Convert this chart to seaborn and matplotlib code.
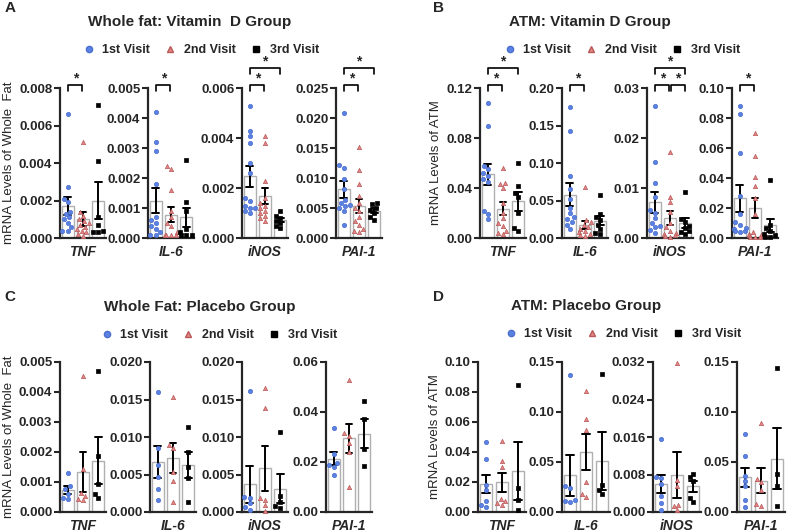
import numpy as np
import pandas as pd
import matplotlib
matplotlib.use('Agg')
import matplotlib.pyplot as plt
import matplotlib.transforms as mtransforms
from matplotlib.lines import Line2D
import seaborn as sns

genes = ['TNF', 'IL-6', 'iNOS', 'PAI-1']
visits = ['1st Visit', '2nd Visit', '3rd Visit']

# A: whole fat, vitamin D group  (values per visit)
a_tnf = [[0.0066, 0.0027, 0.0021, 0.0019, 0.0014, 0.0013, 0.0011, 0.0010, 0.0008, 0.0006, 0.0004, 0.0004],
         [0.0051, 0.0014, 0.0012, 0.0010, 0.0009, 0.0008, 0.0007, 0.0006, 0.0005, 0.0004, 0.0003, 0.0002, 0.0001],
         [0.0071, 0.0041, 0.0011, 0.0007, 0.0004, 0.0003, 0.0003]]
a_il6 = [[0.0042, 0.0032, 0.0029, 0.0018, 0.0007, 0.0006, 0.0005, 0.0004, 0.0003, 0.0002, 0.0001, 0.0001],
         [0.0024, 0.0023, 0.0016, 0.0009, 0.0007, 0.0005, 0.0004, 0.0002, 0.0001, 0.0001, 0.0001, 0.0001],
         [0.0026, 0.0012, 0.0009, 0.0003, 0.0002, 0.0001, 0.0001, 0.0001]]
a_inos = [[0.0053, 0.0043, 0.0041, 0.0038, 0.0030, 0.0026, 0.0016, 0.0015, 0.0013, 0.0012, 0.0012, 0.0011, 0.0010],
          [0.0041, 0.0038, 0.0023, 0.0016, 0.0014, 0.0013, 0.0012, 0.0011, 0.0010, 0.0009, 0.0008, 0.0007],
          [0.0011, 0.0009, 0.0008, 0.0007, 0.0006, 0.0005, 0.0004]]
a_pai1 = [[0.0209, 0.0121, 0.0116, 0.0099, 0.0082, 0.0063, 0.0058, 0.0055, 0.0053, 0.0050, 0.0045, 0.0021],
          [0.0152, 0.0113, 0.0090, 0.0070, 0.0058, 0.0050, 0.0045, 0.0035, 0.0028, 0.0022, 0.0015, 0.0012, 0.0010],
          [0.0058, 0.0056, 0.0050, 0.0046, 0.0042, 0.0035, 0.0030]]

# B: ATM, vitamin D group
b_tnf = [[0.108, 0.090, 0.058, 0.055, 0.052, 0.050, 0.047, 0.045, 0.022, 0.019, 0.015],
         [0.056, 0.044, 0.043, 0.040, 0.028, 0.020, 0.016, 0.012, 0.010, 0.006, 0.004, 0.003],
         [0.060, 0.042, 0.036, 0.033, 0.020, 0.008, 0.006]]
b_il6 = [[0.175, 0.143, 0.083, 0.065, 0.052, 0.040, 0.033, 0.028, 0.025, 0.022, 0.018, 0.012],
         [0.068, 0.024, 0.021, 0.018, 0.015, 0.012, 0.010, 0.008, 0.006, 0.004, 0.003],
         [0.057, 0.032, 0.028, 0.024, 0.018, 0.012, 0.007, 0.005]]
b_inos = [[0.0265, 0.0152, 0.0110, 0.0082, 0.0056, 0.0050, 0.0040, 0.0030, 0.0025, 0.0022, 0.0016, 0.0010],
          [0.0173, 0.0082, 0.0072, 0.0052, 0.0030, 0.0022, 0.0015, 0.0010, 0.0008, 0.0006, 0.0004, 0.0003],
          [0.0093, 0.0038, 0.0032, 0.0025, 0.0020, 0.0015, 0.0012, 0.0008]]
b_pai1 = [[0.088, 0.083, 0.057, 0.028, 0.016, 0.011, 0.009, 0.007, 0.006, 0.005, 0.005, 0.004],
          [0.070, 0.055, 0.041, 0.035, 0.027, 0.016, 0.004, 0.003, 0.002, 0.002, 0.001, 0.001, 0.001],
          [0.039, 0.009, 0.007, 0.005, 0.003, 0.002, 0.001, 0.001]]

# C: whole fat, placebo group
c_tnf = [[0.0013, 0.00086, 0.00076, 0.00061, 0.00047, 0.00044],
         [0.00455, 0.00145, 0.00065, 0.00055, 0.00045, 0.0004],
         [0.0047, 0.00186, 0.00094, 0.0006, 0.00048]]
c_il6 = [[0.016, 0.0085, 0.0063, 0.0047, 0.0031, 0.0016],
         [0.0154, 0.0089, 0.0085, 0.0053, 0.0041, 0.0013],
         [0.0114, 0.0080, 0.0060, 0.0046, 0.0013]]
c_inos = [[0.0161, 0.0020, 0.0019, 0.0012, 0.0007, 0.0003],
          [0.0165, 0.0139, 0.0019, 0.0016, 0.0009, 0.0002],
          [0.0107, 0.0021, 0.0014, 0.0008, 0.0006]]
c_pai1 = [[0.0335, 0.0232, 0.0195, 0.0188, 0.0180, 0.0148],
          [0.0530, 0.0315, 0.0305, 0.0275, 0.0240, 0.0100],
          [0.0445, 0.0372, 0.0252, 0.0185]]

# D: ATM, placebo group
d_tnf = [[0.0465, 0.0355, 0.0180, 0.0145, 0.0075, 0.0048, 0.0033],
         [0.0473, 0.0340, 0.0300, 0.0090, 0.0075, 0.0060, 0.0050],
         [0.0845, 0.0160, 0.0080, 0.0015]]
d_il6 = [[0.137, 0.026, 0.024, 0.012, 0.011, 0.010],
         [0.121, 0.093, 0.082, 0.030, 0.018, 0.015],
         [0.138, 0.027, 0.022, 0.018]]
d_inos = [[0.0155, 0.0075, 0.0072, 0.0060, 0.0035, 0.0019, 0.0004],
          [0.0318, 0.0068, 0.0055, 0.0016, 0.0012, 0.0004],
          [0.0082, 0.0074, 0.0066, 0.0030, 0.0021]]
d_pai1 = [[0.078, 0.056, 0.036, 0.031, 0.026, 0.012, 0.005],
          [0.089, 0.033, 0.030, 0.022, 0.008, 0.006],
          [0.144, 0.038, 0.026, 0.006]]

# y ticks per subplot
a_yticks = [[0, 0.002, 0.004, 0.006, 0.008], [0, 0.001, 0.002, 0.003, 0.004, 0.005],
            [0, 0.002, 0.004, 0.006], [0, 0.005, 0.010, 0.015, 0.020, 0.025]]
b_yticks = [[0, 0.04, 0.08, 0.12], [0, 0.05, 0.10, 0.15, 0.20],
            [0, 0.01, 0.02, 0.03], [0, 0.02, 0.04, 0.06, 0.08, 0.10]]
c_yticks = [[0, 0.001, 0.002, 0.003, 0.004, 0.005], [0, 0.005, 0.010, 0.015, 0.020],
            [0, 0.005, 0.010, 0.015, 0.020], [0, 0.02, 0.04, 0.06]]
d_yticks = [[0, 0.02, 0.04, 0.06, 0.08, 0.10], [0, 0.05, 0.10, 0.15],
            [0, 0.008, 0.016, 0.024, 0.032], [0, 0.05, 0.10, 0.15]]
a_dec = [3, 3, 3, 3]
b_dec = [2, 2, 2, 2]
c_dec = [3, 3, 3, 2]
d_dec = [2, 2, 3, 2]

# significance brackets (visit i, visit j, level)
a_sig = [[(0, 1, 0)], [(0, 1, 0)], [(0, 1, 0), (0, 2, 1)], [(0, 1, 0), (0, 2, 1)]]
b_sig = [[(0, 1, 0), (0, 2, 1)], [(0, 1, 0)], [(0, 1, 0), (1, 2, 0), (0, 2, 1)], [(0, 1, 0)]]
no_sig = [[], [], [], []]

W, H = 789, 532
sns.set_theme(style='ticks')
plt.rcParams['font.family'] = ['Liberation Sans', 'DejaVu Sans']
plt.rcParams['axes.linewidth'] = 1.6

fig = plt.figure(figsize=(W / 100, H / 100), dpi=100)

styles = [('o', '#5b82e3', '#4a6fcc'), ('^', '#e48585', '#b85a5a'), ('s', 'black', 'black')]


def fx(px):
    return px / W


def fy(py):
    return 1 - py / H


def draw(ax, vals, ticks, dec, sig, gene):
    df = pd.DataFrame({'visit': np.repeat(visits, [len(v) for v in vals]),
                       'value': np.concatenate(vals)})
    ax.set_ylim(0, ticks[-1])
    sns.barplot(data=df, x='visit', y='value', order=visits, color='white',
                edgecolor='#b0b0b0', linewidth=1.0, width=0.8, errorbar='se',
                capsize=0.45, err_kws={'color': 'black', 'linewidth': 1.4}, ax=ax)
    ax.set_ylim(0, ticks[-1])
    ax.set_xlim(-0.5, 2.5)
    for v, (m, c, ec) in zip(visits, styles):
        sns.swarmplot(data=df[df.visit == v], x='visit', y='value', order=visits,
                      marker=m, color=c, edgecolor=ec, linewidth=0.5, size=3.1,
                      ax=ax, warn_thresh=1, clip_on=False, zorder=3)
    ax.set_xlim(-0.5, 2.5)
    ax.set_ylim(0, ticks[-1])
    sns.despine(ax=ax)
    ax.set_xticks([])
    ax.set_xlabel(gene, fontstyle='italic', fontweight='bold', fontsize=10, labelpad=5)
    ax.set_ylabel('')
    ax.set_yticks(ticks)
    ax.set_yticklabels([f'{t:.{dec}f}' for t in ticks], fontweight='bold', fontsize=9.5)
    ax.tick_params(axis='y', length=4, width=1.5, pad=1.5)
    trans = mtransforms.blended_transform_factory(ax.transData, ax.transAxes)
    for i, j, lvl in sig:
        y = 1.02 + 0.115 * lvl
        x0, x1 = i + 0.04, j - 0.04
        ax.add_line(Line2D([x0, x0, x1, x1], [y - 0.04, y, y, y - 0.04], transform=trans,
                           color='black', linewidth=1.2, clip_on=False))
        ax.text((x0 + x1) / 2, y - 0.005, '*', transform=trans, ha='center', va='bottom',
                fontsize=10, fontweight='bold')


panels = [
    ('A', [a_tnf, a_il6, a_inos, a_pai1], a_yticks, a_dec, a_sig, [60, 148, 242, 336], 46, 88,
     'Whole fat: Vitamin  D Group', (190, 22), (10, 8), (200, 50), 'mRNA Levels of Whole  Fat', 9),
    ('B', [b_tnf, b_il6, b_inos, b_pai1], b_yticks, b_dec, b_sig, [480, 562, 647, 732], 46, 88,
     'ATM: Vitamin D Group', (590, 22), (439, 8), (621, 50), 'mRNA Levels of ATM', 436),
    ('C', [c_tnf, c_il6, c_inos, c_pai1], c_yticks, c_dec, no_sig, [60, 150, 242, 326], 46, 362,
     'Whole Fat: Placebo Group', (200, 307), (10, 297), (218, 335), 'mRNA Levels of Whole  Fat', 9),
    ('D', [d_tnf, d_il6, d_inos, d_pai1], d_yticks, d_dec, no_sig, [478, 562, 653, 737], 48, 362,
     'ATM: Placebo Group', (586, 306), (438, 297), (622, 334), 'mRNA Levels of ATM', 435),
]

handles = [Line2D([], [], linestyle='none', marker=m, color=c, markeredgecolor=ec,
                  markersize=4.5) for m, c, ec in styles]

for (letter, data, yticks, decs, sigs, lefts, width, top,
     title, tpos, lpos, legpos, ylab, ylx) in panels:
    for k in range(4):
        ax = fig.add_axes([fx(lefts[k]), fy(top + 150), width / W, 150 / H])
        draw(ax, data[k], yticks[k], decs[k], sigs[k], genes[k])
    fig.text(fx(tpos[0]), fy(tpos[1]), title, ha='center', va='center',
             fontsize=11, fontweight='bold')
    fig.text(fx(lpos[0]), fy(lpos[1]), letter, ha='center', va='center',
             fontsize=11, fontweight='bold')
    fig.text(fx(ylx), fy(top + 75), ylab, ha='center', va='center', rotation=90, fontsize=9.5)
    fig.legend(handles, visits, loc='center', bbox_to_anchor=(fx(legpos[0]), fy(legpos[1])),
               ncol=3, frameon=False, prop={'weight': 'bold', 'size': 9},
               handletextpad=0.5, columnspacing=1.0, handlelength=1.2)

fig.savefig('out.png', dpi=100)
